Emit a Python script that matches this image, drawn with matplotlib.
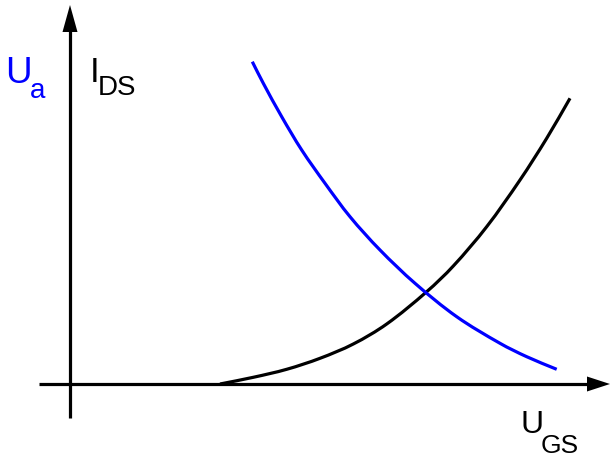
import numpy as np
import matplotlib.pyplot as plt
from matplotlib.path import Path
from matplotlib.patches import PathPatch

plt.rcParams['font.family'] = ['Liberation Sans', 'DejaVu Sans']

# transfer characteristic I_DS(U_GS), origin at the axis crossing
ugs_ids = [150, 183.3, 216.7, 250, 283.3, 316.7, 356.7, 383.3, 416.7, 450, 476.7, 500]
ids = [0, 6.7, 14.7, 25.7, 40, 60, 92.3, 118, 157.3, 204, 245.7, 285.7]

# output voltage U_a(U_GS)
ugs_ua = [182.3, 193.3, 211.7, 231.7, 255, 280, 310, 345, 386.7, 430, 456.7, 486.7]
ua = [322.3, 300.7, 267.3, 234, 200.7, 167.3, 134, 100.7, 67.3, 40.7, 27.3, 14.7]


def smooth_path(x, y):
    # cubic bezier segments through the points, tangent length scaled by chord
    p = np.column_stack([x, y]).astype(float)
    t = np.zeros_like(p)
    t[1:-1] = p[2:] - p[:-2]
    t[0] = p[1] - p[0]
    t[-1] = p[-1] - p[-2]
    t /= np.linalg.norm(t, axis=1)[:, None]
    verts = [p[0]]
    codes = [Path.MOVETO]
    for i in range(len(p) - 1):
        d = np.linalg.norm(p[i + 1] - p[i]) / 3
        verts += [p[i] + t[i] * d, p[i + 1] - t[i + 1] * d, p[i + 1]]
        codes += [Path.CURVE4] * 3
    return Path(verts, codes)


fig = plt.figure(figsize=(6.11, 4.57), dpi=100)
ax = fig.add_axes([0, 0, 1, 1])
ax.set_xlim(-70, 541)
ax.set_ylim(-73, 384)
ax.axis('off')

lw = 2.3
# axes with arrow heads
ax.plot([-31, 520], [0, 0], color='black', lw=lw, solid_capstyle='butt')
ax.plot([0, 0], [-34, 355], color='black', lw=lw, solid_capstyle='butt')
ax.fill([517, 540, 517], [-7.5, 0, 7.5], color='black', lw=0)
ax.fill([-7.5, 0, 7.5], [352, 379, 352], color='black', lw=0)

ax.add_patch(PathPatch(smooth_path(ugs_ids, ids), fill=False,
                       edgecolor='black', lw=lw, capstyle='butt'))
ax.add_patch(PathPatch(smooth_path(ugs_ua, ua), fill=False,
                       edgecolor='#0000ff', lw=lw, capstyle='butt'))

# axis labels
ax.text(-64.5, 300.7, 'U', color='#0000ff', fontsize=26.5, ha='left', va='baseline')
ax.text(-40, 285.7, 'a', color='#0000ff', fontsize=20, ha='left', va='baseline')
ax.text(20, 302.3, 'I', color='black', fontsize=25, ha='left', va='baseline')
ax.text(27.8, 289, 'DS', color='black', fontsize=20, ha='left', va='baseline')
ax.text(450.4, -49, 'U', color='black', fontsize=23, ha='left', va='baseline')
ax.text(470.4, -69, 'GS', color='black', fontsize=19, ha='left', va='baseline')

fig.savefig('out.png', dpi=100)
